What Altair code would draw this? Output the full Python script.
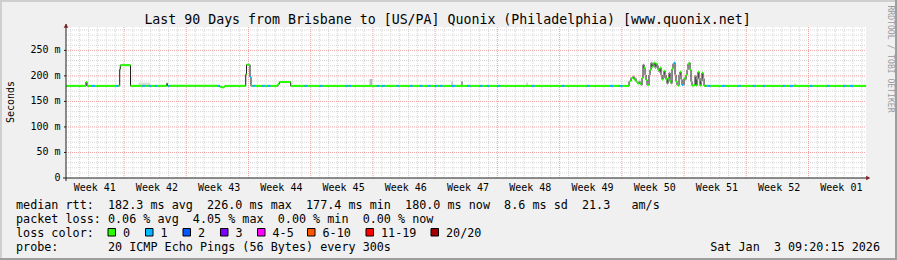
import altair as alt
import pandas as pd

FONT = "DejaVu Sans Mono"
NB = "\u00a0"

# ---------------- data ----------------
TITLE = "Last 90 Days from Brisbane to [US/PA] Quonix (Philadelphia) [www.quonix.net]"
Y_TICKS = [0, 50, 100, 150, 200, 250]
WEEK_LABELS = ["Week 41", "Week 42", "Week 43", "Week 44", "Week 45", "Week 46", "Week 47",
               "Week 48", "Week 49", "Week 50", "Week 51", "Week 52", "Week 01"]
WEEK_LINES = [6.53, 13.53, 20.53, 27.53, 34.53, 41.53, 48.53, 55.53, 62.53, 69.53, 76.53, 83.53]

# median rtt as steps: (day, ms, lost pings)
PRE = [(0.00, 180.5, 0), (2.25, 188.0, 0), (2.36, 180.5, 0), (2.92, 180.5, 1), (3.26, 180.5, 0),
       (5.60, 180.5, 1), (5.90, 180.5, 0), (6.04, 213.0, 0), (6.11, 221.0, 0), (7.26, 180.5, 0),
       (8.60, 180.5, 1), (8.92, 180.5, 0), (9.30, 180.5, 1), (9.62, 180.5, 0), (10.00, 180.5, 1),
       (10.30, 180.5, 0), (11.33, 185.0, 0), (11.42, 180.5, 1), (11.72, 180.5, 0),
       (17.05, 180.5, 1), (17.32, 178.5, 0), (17.55, 177.4, 0), (17.78, 179.0, 0), (17.89, 180.5, 0),
       (20.22, 203.0, 0), (20.31, 222.0, 0), (20.70, 198.0, 1), (20.81, 180.5, 0),
       (21.00, 180.5, 1), (21.32, 180.5, 0), (22.10, 180.5, 1), (22.42, 180.5, 0),
       (22.70, 180.5, 1), (23.02, 180.5, 0), (23.85, 184.0, 0), (24.00, 188.0, 0), (25.28, 180.5, 0),
       (26.85, 180.5, 1), (27.17, 180.5, 0), (28.55, 180.5, 1), (28.87, 180.5, 0),
       (31.45, 180.5, 1), (31.77, 180.5, 0), (31.84, 180.5, 1), (32.10, 180.5, 0),
       (34.95, 180.5, 1), (35.27, 180.5, 0), (35.55, 180.5, 1), (35.87, 180.5, 0),
       (37.20, 180.5, 1), (37.52, 180.5, 0), (38.68, 180.5, 1), (39.00, 180.5, 0),
       (39.80, 180.5, 1), (40.12, 180.5, 0), (40.70, 180.5, 1), (41.02, 180.5, 0),
       (41.50, 180.5, 1), (41.82, 180.5, 0), (42.05, 180.5, 1), (42.37, 180.5, 0),
       (43.42, 180.5, 1), (43.80, 180.5, 0), (45.11, 180.5, 1), (45.50, 180.5, 0),
       (46.55, 180.5, 1), (46.87, 180.5, 0), (47.35, 180.5, 1), (47.67, 180.5, 0),
       (48.49, 180.5, 1), (48.86, 180.5, 0), (52.40, 180.5, 1), (52.72, 180.5, 0),
       (55.78, 180.5, 1), (56.10, 180.5, 0), (58.60, 180.5, 1), (58.92, 180.5, 0),
       (61.20, 180.5, 1), (61.58, 180.5, 0), (62.30, 180.5, 1), (62.62, 180.5, 0)]

# the unsettled stretch in week 50, one value per sample
NOISE_START = 63.34
NOISE_STEP = 0.1125
NOISE_RTT = [189, 190, 196, 196, 199, 193, 195, 189, 187, 185, 189, 185, 182, 196, 222, 216,
             202, 192, 182, 182, 202, 212, 226, 218, 222, 226, 216, 224, 220, 212, 208, 216,
             202, 193, 196, 210, 202, 193, 185, 196, 206, 189, 185, 214, 224, 226, 202, 189,
             182, 181, 202, 208, 193, 182, 182, 195, 193, 202, 212, 224, 226, 212, 189, 181,
             181, 182, 200, 181, 193, 208, 196, 181, 190, 206, 195]
NOISE_LOSS = [0, 0, 0, 0, 0, 0, 0, 0, 0, 0, 0, 0, 0, 0, 1, 0,
              0, 0, 0, 0, 0, 0, 0, 0, 1, 0, 0, 0, 1, 0, 0, 0,
              0, 0, 1, 0, 0, 0, 1, 0, 0, 0, 0, 0, 0, 1, 0, 0,
              0, 0, 0, 0, 0, 1, 0, 0, 0, 0, 0, 0, 0, 0, 0, 0,
              0, 0, 0, 0, 0, 0, 0, 0, 0, 0, 0]

POST = [(71.78, 180.5, 0), (71.89, 180.5, 1), (72.05, 180.5, 0), (72.20, 180.5, 1), (72.52, 180.5, 0),
        (73.80, 180.5, 1), (74.18, 180.5, 0), (75.58, 180.5, 1), (75.90, 180.5, 0),
        (77.27, 180.5, 1), (77.59, 180.5, 0), (78.40, 180.5, 1), (78.72, 180.5, 0),
        (80.64, 180.5, 1), (80.96, 180.5, 0), (81.45, 180.5, 1), (81.83, 180.5, 0),
        (83.68, 180.5, 1), (84.00, 180.5, 0), (85.60, 180.5, 1), (85.92, 180.5, 0),
        (87.41, 180.5, 1), (87.79, 180.5, 0), (88.20, 180.5, 1), (88.58, 180.5, 0)]
END_DAY = 90.0
END_RTT = 180.0

# faint smoke: (from day, to day, low ms, high ms, shade)
SMOKE = [(8.15, 9.45, 180.5, 187, "#dcdcdc"), (34.15, 34.45, 180.5, 194, "#b8b8b8"),
         (43.35, 43.55, 180.5, 189, "#c8c8c8"), (44.45, 44.65, 180.5, 189, "#909090"),
         (51.80, 51.95, 180.5, 187, "#c8c8c8"), (81.95, 82.10, 180.5, 185, "#c8c8c8")]

LOSS_LABELS = ["0", "1", "2", "3", "4-5", "6-10", "11-19", "20/20"]
LOSS_COLORS = ["#26ff00", "#00b8ff", "#0059ff", "#7e00ff", "#ff00ff", "#ff5500", "#ff0000", "#a00000"]

LINE_RTT = "median rtt:  182.3 ms avg  226.0 ms max  177.4 ms min  180.0 ms now  8.6 ms sd  21.3   am/s"
LINE_LOSS = "packet loss: 0.06 % avg  4.05 % max  0.00 % min  0.00 % now"
LINE_COLOR = "loss color:"
LINE_PROBE = "probe:       20 ICMP Echo Pings (56 Bytes) every 300s"
DATE = "Sat Jan  3 09:20:15 2026"
Y_TITLE = "Seconds"
SIDE = "RRDTOOL / TOBI OETIKER"

# ---------------- layout ----------------
W, H = 800, 151
LEFT, TOP = 66, 27
YMAX = 295.8
BG = "#f0f0f0"
GRID = "#d6d6d6"
MGRID = "#eea2a2"
AXIS = "#1f1f1f"
ARROW = "#7f1f1f"
LEG_FS = 11.75


def vx(px):
    return px - LEFT


def vy(py):
    return py - TOP


def nb(s):
    return s.replace(" ", NB)


xs = alt.Scale(domain=[0, 90], nice=False, zero=False)
ys = alt.Scale(domain=[0, YMAX], nice=False, zero=False)

# steps table
rows = list(PRE)
for i, (v, l) in enumerate(zip(NOISE_RTT, NOISE_LOSS)):
    rows.append((NOISE_START + i * NOISE_STEP, v, l))
rows += POST
steps = pd.DataFrame(rows, columns=["t", "rtt", "loss"])
steps["t2"] = list(steps["t"][1:]) + [END_DAY]
steps["col"] = [LOSS_COLORS[l] for l in steps["loss"]]
line_df = pd.concat([steps[["t", "rtt"]], pd.DataFrame({"t": [END_DAY], "rtt": [END_RTT]})])

smoke = pd.DataFrame(SMOKE, columns=["t", "t2", "lo", "hi", "shade"])

one = pd.DataFrame({"k": [0]})

# grid
minor_h = pd.DataFrame({"v": [v for v in range(10, 300, 10) if v % 50]})
major_h = pd.DataFrame({"v": [v for v in Y_TICKS if v > 0]})
day_lines = [round(WEEK_LINES[0] - 6 + d, 2) for d in range(90)]
minor_v = pd.DataFrame({"t": [d for d in day_lines if all(abs(d - w) > 0.01 for w in WEEK_LINES)]})
major_v = pd.DataFrame({"t": WEEK_LINES})

layers = []
layers.append(alt.Chart(minor_h).mark_rule(color=GRID, strokeDash=[1, 1], strokeWidth=1).encode(
    y=alt.Y("v:Q", scale=ys, axis=None), x=alt.value(0), x2=alt.value(W)))
layers.append(alt.Chart(minor_v).mark_rule(color=GRID, strokeDash=[1, 1], strokeWidth=1).encode(
    x=alt.X("t:Q", scale=xs, axis=None), y=alt.value(0), y2=alt.value(H)))
layers.append(alt.Chart(major_h).mark_rule(color=MGRID, strokeDash=[1, 1], strokeWidth=1).encode(
    y=alt.Y("v:Q", scale=ys, axis=None), x=alt.value(0), x2=alt.value(W)))
layers.append(alt.Chart(major_v).mark_rule(color=MGRID, strokeDash=[1, 1], strokeWidth=1).encode(
    x=alt.X("t:Q", scale=xs, axis=None), y=alt.value(0), y2=alt.value(H)))

# smoke
layers.append(alt.Chart(smoke).mark_rect().encode(
    x=alt.X("t:Q", scale=xs, axis=None), x2="t2:Q",
    y=alt.Y("lo:Q", scale=ys, axis=None), y2="hi:Q",
    color=alt.Color("shade:N", scale=None)))

# median line (dark) and loss coloured segments
layers.append(alt.Chart(line_df).mark_line(interpolate="step-after", color="#1a1a1a", strokeWidth=1).encode(
    x=alt.X("t:Q", scale=xs, axis=None), y=alt.Y("rtt:Q", scale=ys, axis=None)))
layers.append(alt.Chart(steps).mark_rule(strokeWidth=2, strokeCap="butt").encode(
    x=alt.X("t:Q", scale=xs, axis=None), x2="t2:Q",
    y=alt.Y("rtt:Q", scale=ys, axis=None),
    color=alt.Color("col:N", scale=None)))

# axes
layers.append(alt.Chart(one).mark_rule(color=AXIS, strokeWidth=1).encode(
    x=alt.value(0), y=alt.value(-3), y2=alt.value(H + 3)))
layers.append(alt.Chart(one).mark_rule(color=AXIS, strokeWidth=1).encode(
    y=alt.value(H), x=alt.value(-3), x2=alt.value(W + 2)))
layers.append(alt.Chart(major_h).mark_rule(color=AXIS, strokeWidth=1).encode(
    y=alt.Y("v:Q", scale=ys, axis=None), x=alt.value(-2), x2=alt.value(0)))
layers.append(alt.Chart(one).mark_point(shape="triangle-up", filled=True, size=22, color=ARROW, opacity=1).encode(
    x=alt.value(0), y=alt.value(-1.2)))
layers.append(alt.Chart(one).mark_point(shape="triangle-right", filled=True, size=22, color=ARROW, opacity=1).encode(
    x=alt.value(W + 2.2), y=alt.value(H)))

# tick labels
ytl = pd.DataFrame({"v": Y_TICKS, "lab": [nb(f"{v} m") if v else nb("0  ") for v in Y_TICKS]})
layers.append(alt.Chart(ytl).mark_text(font=FONT, fontSize=10, align="right", baseline="middle", color="black").encode(
    y=alt.Y("v:Q", scale=ys, axis=None), x=alt.value(vx(60.5)), text="lab:N"))
wk = pd.DataFrame({"c": [w - 3.3 for w in WEEK_LINES] + [WEEK_LINES[-1] + 3.7], "lab": [nb(s) for s in WEEK_LABELS]})
layers.append(alt.Chart(wk).mark_text(font=FONT, fontSize=10, align="center", baseline="middle", color="black").encode(
    x=alt.X("c:Q", scale=xs, axis=None), y=alt.value(vy(187.5)), text="lab:N"))

# title and side texts
def txt(s, px, py, size, align="left", angle=0, color="black"):
    kw = dict(font=FONT, fontSize=size, align=align, baseline="middle", color=color)
    if angle:
        kw["angle"] = angle
    return alt.Chart(pd.DataFrame({"s": [nb(s)]})).mark_text(**kw).encode(
        x=alt.value(vx(px)), y=alt.value(vy(py)), text="s:N")

layers.append(txt(TITLE, 447.5, 19.5, 13.25, align="center"))
layers.append(txt(Y_TITLE, 10.5, 102, 10, align="center", angle=270))
layers.append(txt(SIDE, 889.5, 59, 8.1, align="center", angle=90, color="#9a9a9a"))
layers.append(txt(LINE_RTT, 16, 204.5, LEG_FS))
layers.append(txt(LINE_LOSS, 16, 218.5, LEG_FS))
layers.append(txt(LINE_COLOR, 16, 232.5, LEG_FS))
layers.append(txt(LINE_PROBE, 16, 246.5, LEG_FS))
layers.append(txt(DATE, 880, 246.5, LEG_FS, align="right"))

# loss colour legend boxes
BOX_X = [108, 145.5, 183, 220.5, 257.5, 307.5, 366, 431]
boxes = pd.DataFrame({"x": [vx(b) for b in BOX_X], "x2": [vx(b + 7.5) for b in BOX_X], "col": LOSS_COLORS})
layers.append(alt.Chart(boxes).mark_rect(stroke="black", strokeWidth=1).encode(
    x=alt.X("x:Q", scale=None), x2="x2:Q", y=alt.value(vy(228.5)), y2=alt.value(vy(236)),
    color=alt.Color("col:N", scale=None)))
labs = pd.DataFrame({"x": [vx(b + 15) for b in BOX_X], "lab": LOSS_LABELS})
layers.append(alt.Chart(labs).mark_text(font=FONT, fontSize=LEG_FS, align="left", baseline="middle", color="black").encode(
    x=alt.X("x:Q", scale=None), y=alt.value(vy(232.5)), text="lab:N"))

# 3D frame
layers.append(alt.Chart(one).mark_rule(color="#cfcfcf", strokeWidth=2).encode(
    y=alt.value(vy(1)), x=alt.value(vx(0)), x2=alt.value(vx(897))))
layers.append(alt.Chart(one).mark_rule(color="#cfcfcf", strokeWidth=2).encode(
    x=alt.value(vx(1)), y=alt.value(vy(0)), y2=alt.value(vy(260))))
layers.append(alt.Chart(one).mark_rule(color="#9e9e9e", strokeWidth=2).encode(
    y=alt.value(vy(259)), x=alt.value(vx(0)), x2=alt.value(vx(897))))
layers.append(alt.Chart(one).mark_rule(color="#9e9e9e", strokeWidth=2).encode(
    x=alt.value(vx(896)), y=alt.value(vy(0)), y2=alt.value(vy(260))))

chart = alt.layer(*layers).properties(
    width=W, height=H,
    padding={"left": LEFT, "top": TOP, "right": 897 - LEFT - W, "bottom": 260 - TOP - H},
    autosize=alt.AutoSizeParams(type="none"),
    background=BG,
).configure_view(fill="white", stroke=None)

chart.save("out.html", embed_options={"renderer": "svg", "actions": False})
